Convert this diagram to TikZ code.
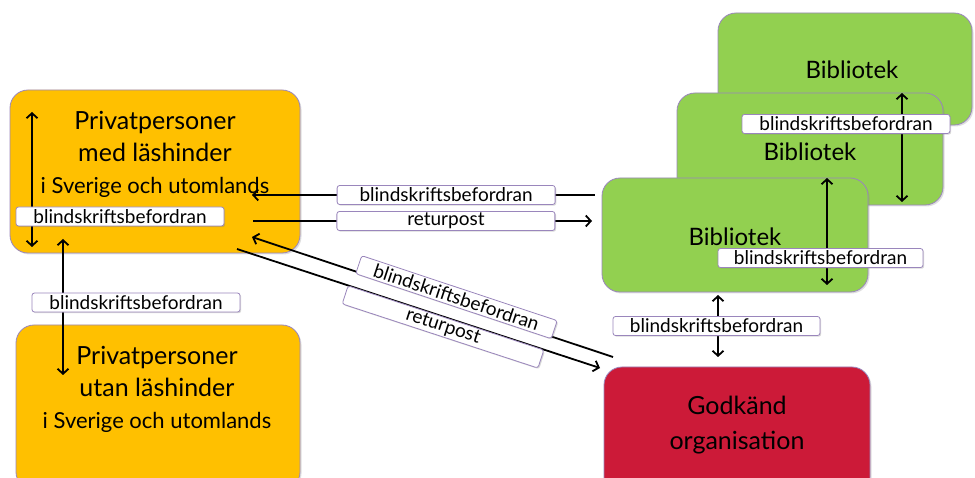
\documentclass[tikz,border=0pt]{standalone}
\usepackage{fontspec}
\setmainfont{Lato}
\usepackage{xcolor}
\usetikzlibrary{arrows.meta}
\usetikzlibrary{shadows}
\definecolor{orangebox}{HTML}{FFC000}
\definecolor{greenbox}{HTML}{92D050}
\definecolor{redbox}{HTML}{CC1A38}
\definecolor{edgepurple}{HTML}{9A86BC}

\begin{document}
\begin{tikzpicture}[
  x=1pt, y=-1pt,
  box/.style={rectangle, rounded corners=18pt, draw=edgepurple, line width=0.8pt,
    drop shadow={opacity=0.25, shadow xshift=1.5pt, shadow yshift=-1.5pt}},
  pbox/.style={box, fill=orangebox},
  bbox/.style={box, fill=greenbox, minimum width=266pt, minimum height=113pt},
  gbox/.style={box, fill=redbox, minimum width=266pt, minimum height=130pt},
  big/.style={align=center, font=\fontsize{25}{32}\selectfont},
  lbl/.style={rectangle, rounded corners=2.5pt, draw=edgepurple, line width=0.8pt,
    fill=white, minimum width=208pt, minimum height=19pt, inner sep=0pt,
    font=\fontsize{19}{19}\selectfont,
    drop shadow={opacity=0.3, shadow xshift=1.2pt, shadow yshift=-1.2pt}},
  flow/.style={line width=1.8pt, -{Straight Barb[length=5pt,width=11pt]}},
  flowback/.style={line width=1.8pt, {Straight Barb[length=5pt,width=11pt]}-},
  both/.style={line width=1.8pt, {Straight Barb[length=5pt,width=11pt]}-{Straight Barb[length=5pt,width=11pt]}}
]
\useasboundingbox (0,0) rectangle (975,478);

\node[pbox, minimum width=290pt, minimum height=163pt] (med) at (155,171.5) {};
\node[big] (medtext) at (155,154) {Privatpersoner\\med läshinder\\{\fontsize{22}{22}\selectfont i Sverige och utomlands}};
\node[pbox, minimum width=284pt, minimum height=165pt] (utan) at (158,407.5) {};
\node[big] (utantext) at (157,389) {Privatpersoner\\utan läshinder\\{\fontsize{22}{22}\selectfont i Sverige och utomlands}};

\node[bbox, minimum width=254pt, minimum height=112pt] (bib3) at (845,69) {};
\node[big, font=\fontsize{24}{24}\selectfont] at (852,70) {Bibliotek};
\node[bbox, minimum height=112pt] (bib2) at (810,149) {};
\node[big, font=\fontsize{24}{24}\selectfont] at (810,152) {Bibliotek};
\node[bbox, minimum height=114pt] (bib1) at (735,235) {};
\node[big, font=\fontsize{24}{24}\selectfont] at (735,237) {Bibliotek};

\node[gbox, minimum height=128pt] (god) at (737,431) {};
\node[big, font=\fontsize{25}{35}\selectfont] at (737,425.5) {Godkänd\\organisation};

\coordinate (medtop) at (32,112);
\coordinate (medbot) at (32,247);
\coordinate (medin) at (63,239);
\coordinate (utanin) at (63,375);
\coordinate (medr1) at (252,195);
\coordinate (bibl1) at (595,195);
\coordinate (medr2) at (253,221);
\coordinate (bibl2) at (592,221);
\coordinate (medr3) at (252,237);
\coordinate (godl1) at (613,357);
\coordinate (medr4) at (237,249);
\coordinate (godl2) at (600,368);
\coordinate (b3in) at (902,93);
\coordinate (b2out) at (902,202);
\coordinate (b2in) at (827,178);
\coordinate (b1out) at (827,285);
\coordinate (b1bot) at (718,295);
\coordinate (godtop) at (718,357);

\draw[both] (medtop) -- (medbot) node[lbl, pos=0.774, xshift=88pt] {blindskriftsbefordran};
\draw[both] (medin) -- (utanin) node[lbl, pos=0.467, xshift=73pt] {blindskriftsbefordran};
\draw[flowback] (medr1) -- (bibl1) node[lbl, minimum width=218pt, pos=0.566] {blindskriftsbefordran};
\draw[flow] (medr2) -- (bibl2) node[lbl, minimum width=218pt, pos=0.569] {returpost};
\draw[flowback] (medr3) -- (godl1) node[lbl, minimum width=206pt, sloped, pos=0.56, above=-2.5pt] {blindskriftsbefordran};
\draw[flow] (medr4) -- (godl2) node[lbl, minimum width=206pt, sloped, pos=0.576, below=0pt] {returpost};
\draw[both] (b3in) -- (b2out) node[lbl, pos=0.284, xshift=-56pt] {blindskriftsbefordran};
\draw[both] (b2in) -- (b1out) node[lbl, minimum width=205pt, pos=0.748, xshift=-6.5pt] {blindskriftsbefordran};
\draw[both] (b1bot) -- (godtop) node[lbl, minimum width=207pt, pos=0.5, xshift=-1.5pt] {blindskriftsbefordran};
\end{tikzpicture}
\end{document}
